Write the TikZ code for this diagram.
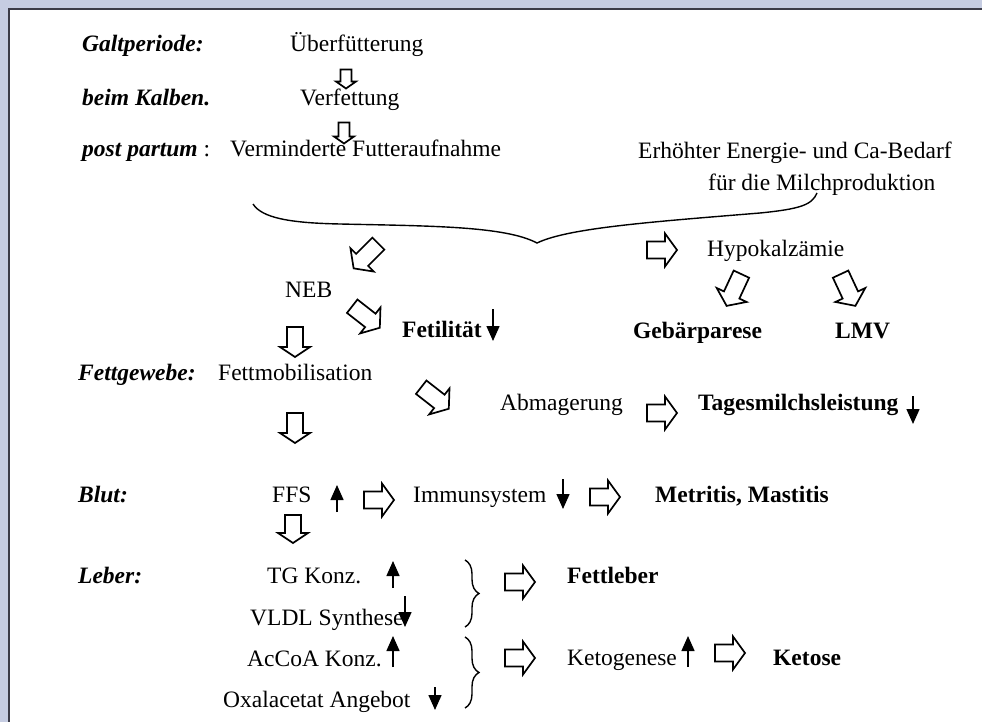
\documentclass[tikz,border=0pt]{standalone}
\usepackage{fontspec}
\setmainfont{Liberation Serif}
\usetikzlibrary{arrows.meta,decorations.pathreplacing}
\definecolor{bgblue}{RGB}{198,205,226}
\definecolor{framecol}{RGB}{60,60,72}
\tikzset{
  txt/.style={anchor=base west, inner sep=0pt, font=\fontsize{23.5}{28}\selectfont},
  lab/.style={txt, font=\fontsize{23.5}{28}\selectfont\bfseries\itshape},
  bld/.style={txt, font=\fontsize{23.5}{28}\selectfont\bfseries},
  blkline/.style={draw, fill=white, line width=1.7pt, line join=miter},
  ind/.style={line width=1.5pt, -{Triangle[width=13pt,length=15pt]}},
  brc/.style={line width=1.4pt},
}
% \blockarr{name}{x,y}{angle}{length}{shaft half}{head half}{head length}
\newcommand\blockarr[7]{%
  \coordinate (#1) at (#2);
  \begin{scope}[shift={(#2)}, rotate=#3]
    \path[blkline] ({-#4/2},{-#5}) -- ({#4/2-#7},{-#5}) -- ({#4/2-#7},{-#6})
      -- ({#4/2},0) -- ({#4/2-#7},{#6}) -- ({#4/2-#7},{#5}) -- ({-#4/2},{#5}) -- cycle;
  \end{scope}}
\newcommand\rarr[2]{\blockarr{#1}{#2}{0}{30}{8.5}{16.5}{12}}
\newcommand\darr[3]{\blockarr{#1}{#2}{-90}{#3}{8}{15}{10}}
\newcommand\tarr[3]{\blockarr{#1}{#2}{#3}{35}{8.5}{16.5}{12}}
\begin{document}
\begin{tikzpicture}[x=1pt,y=-1pt]
\useasboundingbox (0,0) rectangle (982,722);
\fill[bgblue] (0,0) rectangle (982,722);
\fill[white] (9,9) rectangle (982,722);
\draw[framecol, line width=2.5pt] (9,722) -- (9,9) -- (982,9);

% row labels
\node[lab] (gp) at (82,52) {Galtperiode:};
\node[lab] (bk) at (82,106) {beim Kalben.};
\node[lab] (pp) at (82,157) {post partum\textmd{\upshape\ :}};
\node[lab] (fg) at (78,380) {Fettgewebe:};
\node[lab] (bl) at (78,502) {Blut:};
\node[lab] (lb) at (78,583) {Leber:};

% top chain
\node[txt] (ueb) at (290,52) {Überfütterung};
\node[txt] (ver) at (300,106) {Verfettung};
\node[txt] (vfa) at (230,157) {Verminderte Futteraufnahme};
\node[txt] (erh) at (638,159) {Erhöhter Energie- und Ca-Bedarf};
\node[txt] (mil) at (708,190) {für die Milchproduktion};
\blockarr{a1}{346,79}{-90}{19}{5.5}{10}{7}
\blockarr{a2}{344,133}{-90}{21}{5.5}{10}{7}

% big brace
\draw[brc] (253,204) .. controls (262,218) and (290,223) .. (340,224)
  .. controls (430,226) and (505,226) .. (537,243)
  .. controls (568,228) and (650,222) .. (760,213)
  .. controls (800,209) and (812,205) .. (817,193);

% Hypokalzaemie branch
\rarr{ah}{662,250}
\node[txt] (hyp) at (707,256) {Hypokalzämie};
\tarr{ag}{734,290}{-115}
\tarr{alm}{848,290}{-65}
\node[bld] (geb) at (633,338) {Gebärparese};
\node[bld] (lmv) at (835,338) {LMV};

% NEB branch
\tarr{an}{366,256}{-135}
\node[txt] (neb) at (285,297) {NEB};
\tarr{af}{366,317}{-38}
\node[bld] (fet) at (402,337) {Fetilität};
\draw[ind] (493,309) -- (493,341);
\darr{and}{295,342}{30}
\node[txt] (fmo) at (218,380) {Fettmobilisation};
\tarr{aa}{435,398}{-38}
\node[txt] (abm) at (500,410) {Abmagerung};
\rarr{am}{662,413}
\node[bld] (tag) at (698,410) {Tagesmilchsleistung};
\draw[ind] (913,396) -- (913,424);
\darr{afd}{295,428}{30}

% Blut
\node[txt] (ffs) at (272,502) {FFS};
\draw[ind] (337,512) -- (337,485);
\rarr{ai}{379,500}
\node[txt] (imm) at (413,502) {Immunsystem};
\draw[ind] (563,479) -- (563,509);
\rarr{amt}{605,497}
\node[bld] (met) at (655,502) {Metritis, Mastitis};
\darr{abd}{293,529}{28}

% Leber
\node[txt] (tg) at (267,583) {TG Konz.};
\draw[ind] (393,588) -- (393,561);
\node[txt] (vl) at (250,625) {VLDL Synthese};
\draw[ind] (405,596) -- (405,627);
\node[txt] (ac) at (247,666) {AcCoA Konz.};
\draw[ind] (393,667) -- (393,636);
\node[txt] (ox) at (223,707) {Oxalacetat Angebot};
\draw[ind] (435,687) -- (435,710);
\draw[brc, decorate, decoration={brace, amplitude=14pt}] (465,560) -- (465,627);
\draw[brc, decorate, decoration={brace, amplitude=14pt}] (465,637) -- (465,708);
\rarr{al1}{520,582}
\node[bld] (fl) at (567,583) {Fettleber};
\rarr{al2}{520,658}
\node[txt] (keg) at (567,665) {Ketogenese};
\draw[ind] (688,667) -- (688,636);
\rarr{al3}{730,653}
\node[bld] (ket) at (773,665) {Ketose};
\end{tikzpicture}
\end{document}
